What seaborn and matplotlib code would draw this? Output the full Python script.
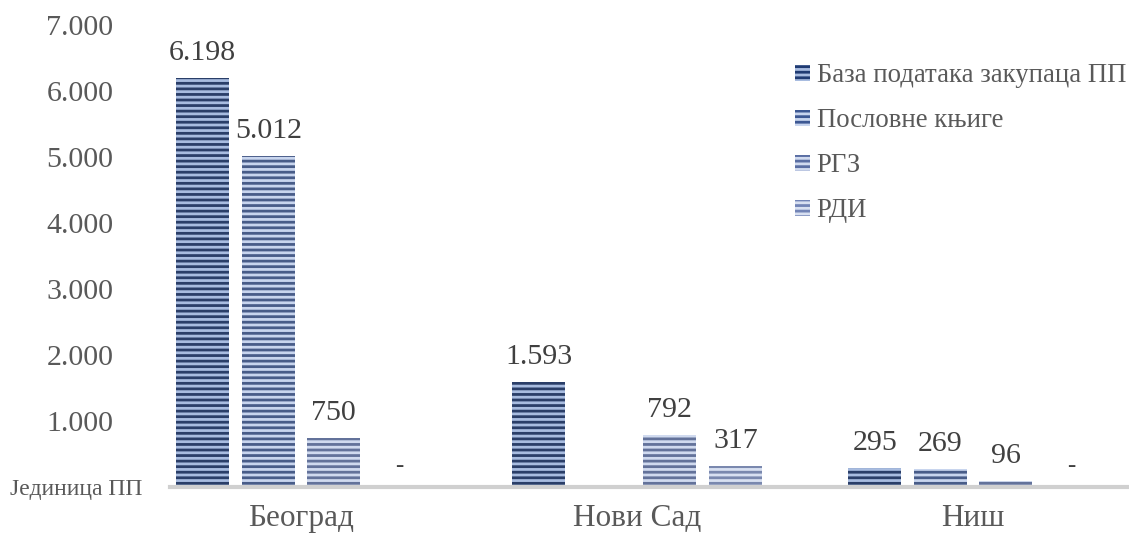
import matplotlib
matplotlib.use("Agg")
from matplotlib import pyplot as plt
from matplotlib.patches import Patch
import numpy as np
import pandas as pd
import seaborn as sns

cities = ['Београд', 'Нови Сад', 'Ниш']
series = ['База података закупаца ПП', 'Пословне књиге', 'РГЗ', 'РДИ']
baza = [6198, 1593, 295]
poslovne = [5012, np.nan, 269]
rgz = [750, 792, 96]
rdi = [0, 317, 0]
yticks = [1000, 2000, 3000, 4000, 5000, 6000, 7000]
ytick_labels = ['1.000', '2.000', '3.000', '4.000', '5.000', '6.000', '7.000']

face = ['#203b72', '#3d5893', '#5a6ea3', '#7284b6']
stripe = ['#a8bce0', '#c8d5ee', '#d0daef', '#d8e0f1']

rows = []
for name, vals in zip(series, [baza, poslovne, rgz, rdi]):
    for c, v in zip(cities, vals):
        rows.append({'city': c, 'series': name, 'value': v})
df = pd.DataFrame(rows)

sns.set_style('white')
plt.rcParams['font.family'] = ['Liberation Serif', 'DejaVu Serif']
plt.rcParams['hatch.linewidth'] = 2.0

fig = plt.figure(figsize=(11.29, 5.37), dpi=100)
ax = fig.add_axes([170 / 1129, 1 - 487 / 537, (1129 - 170) / 1129, (487 - 25) / 537])

sns.barplot(data=df, x='city', y='value', hue='series', order=cities,
            hue_order=series, palette=face, width=0.78, gap=0.19,
            legend=False, ax=ax)

for i, cont in enumerate(ax.containers):
    for p in cont.patches:
        p.set_hatch('---')
        p.set_edgecolor(stripe[i])
        p.set_linewidth(0)

# value labels
slot = 0.78 / 4
for i, vals in enumerate([baza, poslovne, rgz, rdi]):
    for j, v in enumerate(vals):
        if np.isnan(v):
            continue
        x = j - 0.39 + slot * (i + 0.5)
        if v == 0:
            ax.text(x, 150, '-', ha='center', va='bottom', fontsize=18, color='#404040')
        else:
            lab = f'{int(v):,}'.replace(',', '.')
            ax.text(x, v + 180, lab, ha='center', va='bottom', fontsize=21.5, color='#404040')

ax.set_xlim(-0.39, 2.464)
ax.set_ylim(0, 7000)
ax.set_yticks(yticks)
ax.set_yticklabels(ytick_labels, fontsize=21.5, color='#595959')
ax.tick_params(axis='x', labelsize=22.5, labelcolor='#595959', pad=12, length=0)
ax.tick_params(axis='y', length=0, pad=0)
for lab in ax.get_yticklabels():
    lab.set_horizontalalignment('center')
    lab.set_x(-(170 - 80) / (1129 - 170))
ax.set_xlabel('')
ax.set_ylabel('')
for s in ['top', 'right', 'left']:
    ax.spines[s].set_visible(False)
ax.spines['bottom'].set_color('#d0d0d0')
ax.spines['bottom'].set_linewidth(3)

fig.text(10 / 1129, 1 - 490 / 537, 'Јединица ПП', fontsize=17, color='#595959',
         ha='left', va='center')

handles = [Patch(facecolor=face[i], edgecolor=stripe[i], hatch='---', linewidth=0)
           for i in range(4)]
ax.legend(handles, series, loc='upper left', bbox_to_anchor=(771 / 1129, 1 - 39 / 537),
          bbox_transform=fig.transFigure, frameon=False, fontsize=19.3,
          handlelength=0.55, handleheight=0.55, handletextpad=0.25, labelspacing=0.75,
          labelcolor='#595959')

fig.savefig('out.png', dpi=100)
